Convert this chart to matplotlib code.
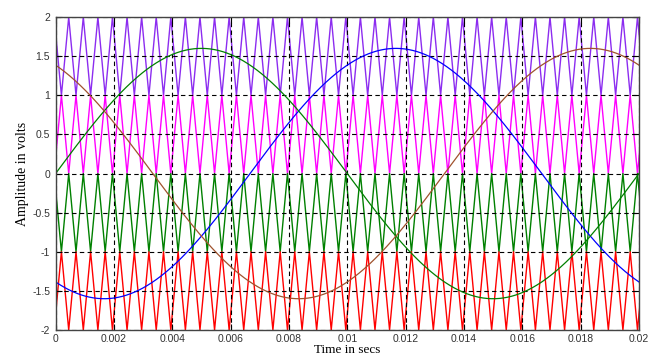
import numpy as np
import matplotlib
matplotlib.use('Agg')
import matplotlib.pyplot as plt

# Reference sine waves
ref_amplitude = 1.6
ref_freq = 50.0
ref_phases_deg = [-120, 0, 120]
ref_colors = ['#0000ff', '#008000', '#a0522d']

# Carriers: alternate phase opposition disposition, 4 bands
carrier_freq = 2000.0
carrier_offset = 0.0002      # first time the lowest band touches its bottom
carrier_bands = [(1, 2), (0, 1), (-1, 0), (-2, -1)]
carrier_colors = ['#8c2cf0', '#ff00ff', '#008000', '#ff0000']
carrier_flip = [False, True, False, True]

x_ticks = [0, 0.002, 0.004, 0.006, 0.008, 0.01, 0.012, 0.014, 0.016, 0.018, 0.02]
x_labels = ['0', '0.002', '0.004', '0.006', '0.008', '0.01', '0.012', '0.014', '0.016', '0.018', '0.02']
y_ticks = [-2, -1.5, -1, -0.5, 0, 0.5, 1, 1.5, 2]
y_labels = ['-2', '-1.5', '-1', '-0.5', '0', '0.5', '1', '1.5', '2']

t_end = 0.02

fig = plt.figure(figsize=(6.54, 3.56), dpi=100)
ax = fig.add_axes([0.085, 0.073, 0.892, 0.879])

# triangle vertices, every half carrier period
half = 0.5 / carrier_freq
tv = np.arange(carrier_offset - 2 * half, t_end + 2 * half, half)
up = (np.arange(len(tv)) % 2 == 1).astype(float)   # 0 at bottom, 1 at top
for (lo, hi), col, flip in zip(carrier_bands, carrier_colors, carrier_flip):
    frac = up if not flip else 1 - up
    ax.plot(tv, lo + (hi - lo) * frac, color=col, lw=1.0, zorder=2)

t = np.linspace(0, t_end, 1000)
for ph, col in zip(ref_phases_deg, ref_colors):
    ax.plot(t, ref_amplitude * np.sin(2 * np.pi * ref_freq * t + np.deg2rad(ph)),
            color=col, lw=0.9, zorder=3)

ax.set_xlim(0, t_end)
ax.set_ylim(-2, 2)
ax.set_xticks(x_ticks)
ax.set_xticklabels(x_labels)
ax.set_yticks(y_ticks)
ax.set_yticklabels(y_labels)
ax.tick_params(direction='in', length=4, labelsize=7.5, labelcolor='#333333',
               top=True, right=True, pad=4)
ax.tick_params(axis='x', pad=3)
for lab in ax.get_xticklabels() + ax.get_yticklabels():
    lab.set_fontfamily('Liberation Sans')
ax.grid(True, color='black', linestyle=(0, (4, 3)), lw=0.8, zorder=4)
ax.set_axisbelow(False)
for s in ax.spines.values():
    s.set_color('#444444')
    s.set_linewidth(1.0)
    s.set_zorder(5)

ax.set_ylabel('Amplitude in volts', fontfamily='Liberation Serif', fontsize=10, labelpad=2)
ax.set_xlabel('Time in secs', fontfamily='Liberation Serif', fontsize=9.5, labelpad=0)

fig.savefig('out.png', dpi=100)
